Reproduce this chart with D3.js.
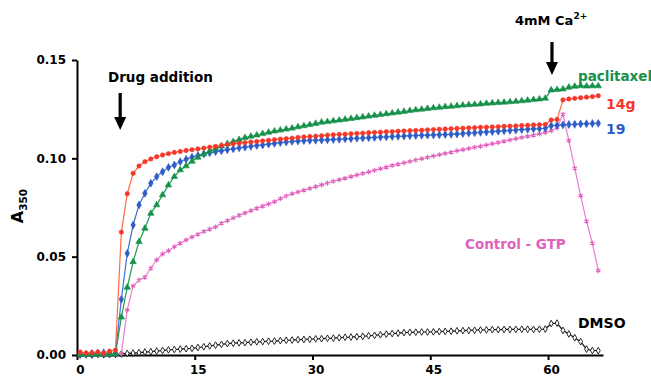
<!DOCTYPE html>
<html>
<head>
<meta charset="utf-8">
<script src="https://cdnjs.cloudflare.com/ajax/libs/d3/7.8.5/d3.min.js"></script>
<style>
  body { margin: 0; background: #fff; }
  svg { display: block; }
  .axis path, .axis line { stroke: #000; stroke-width: 2px; }
  .axis text { font-family: "DejaVu Sans", sans-serif; font-weight: bold; font-size: 12px; fill: #000; }
  .note { font-family: "DejaVu Sans", sans-serif; font-weight: bold; }
</style>
</head>
<body>
<div id="turbidity"></div>
<script>
// read times (min)
var times = [0.4,1.15,1.9,2.65,3.4,4.15,4.9,5.65,6.4,7.15,7.9,8.65,9.4,10.15,10.9,11.65,12.4,13.15,13.9,14.65,
  15.4,16.15,16.9,17.65,18.4,19.15,19.9,20.65,21.4,22.15,22.9,23.65,24.4,25.15,25.9,26.65,27.4,28.15,28.9,29.65,
  30.4,31.15,31.9,32.65,33.4,34.15,34.9,35.65,36.4,37.15,37.9,38.65,39.4,40.15,40.9,41.65,42.4,43.15,43.9,44.65,
  45.4,46.15,46.9,47.65,48.4,49.15,49.9,50.65,51.4,52.15,52.9,53.65,54.4,55.15,55.9,56.65,57.4,58.15,58.9,59.65,
  60.4,61.15,61.9,62.65,63.4,64.15,64.9,65.65,66.4];

// A350 for each compound
var dmso = [0.0000,0.0002,0.0000,0.0003,0.0001,0.0002,0.0003,0.0005,0.0008,0.0010,
  0.0012,0.0015,0.0017,0.0020,0.0023,0.0026,0.0028,0.0030,0.0032,0.0034,
  0.0038,0.0042,0.0046,0.0050,0.0054,0.0058,0.0060,0.0062,0.0063,0.0065,
  0.0067,0.0068,0.0070,0.0071,0.0073,0.0075,0.0076,0.0078,0.0079,0.0080,
  0.0082,0.0083,0.0085,0.0086,0.0088,0.0090,0.0091,0.0093,0.0095,0.0098,
  0.0100,0.0103,0.0106,0.0109,0.0111,0.0114,0.0115,0.0116,0.0117,0.0117,
  0.0118,0.0119,0.0120,0.0121,0.0123,0.0124,0.0125,0.0126,0.0127,0.0128,
  0.0129,0.0129,0.0130,0.0130,0.0130,0.0131,0.0131,0.0130,0.0131,0.0132,
  0.0160,0.0162,0.0125,0.0107,0.0088,0.0068,0.0030,0.0023,0.0022];

var controlGTP = [0.0002,0.0001,0.0003,0.0002,0.0004,0.0003,0.0005,0.0008,0.0229,0.0351,
  0.0381,0.0395,0.0441,0.0483,0.0514,0.0530,0.0550,0.0568,0.0585,0.0600,
  0.0614,0.0628,0.0640,0.0651,0.0670,0.0683,0.0697,0.0710,0.0722,0.0734,
  0.0746,0.0757,0.0768,0.0779,0.0795,0.0808,0.0820,0.0829,0.0838,0.0847,
  0.0856,0.0865,0.0874,0.0883,0.0891,0.0899,0.0907,0.0915,0.0923,0.0931,
  0.0939,0.0947,0.0955,0.0963,0.0970,0.0977,0.0984,0.0991,0.0998,0.1005,
  0.1012,0.1018,0.1025,0.1031,0.1038,0.1044,0.1050,0.1056,0.1062,0.1068,
  0.1074,0.1080,0.1087,0.1093,0.1100,0.1106,0.1112,0.1118,0.1124,0.1131,
  0.1140,0.1155,0.1224,0.1090,0.0950,0.0810,0.0680,0.0568,0.0429];

var cmpd19 = [0.0005,0.0003,0.0008,0.0010,0.0012,0.0008,0.0010,0.0283,0.0517,0.0661,
  0.0763,0.0822,0.0873,0.0907,0.0932,0.0954,0.0966,0.0983,0.0995,0.1006,
  0.1015,0.1022,0.1028,0.1034,0.1038,0.1044,0.1048,0.1053,0.1057,0.1061,
  0.1065,0.1068,0.1072,0.1076,0.1080,0.1083,0.1086,0.1088,0.1090,0.1091,
  0.1092,0.1093,0.1094,0.1096,0.1097,0.1099,0.1100,0.1102,0.1103,0.1105,
  0.1106,0.1108,0.1109,0.1111,0.1112,0.1113,0.1115,0.1116,0.1117,0.1118,
  0.1119,0.1120,0.1121,0.1122,0.1124,0.1126,0.1128,0.1130,0.1132,0.1134,
  0.1136,0.1138,0.1140,0.1142,0.1144,0.1146,0.1148,0.1150,0.1151,0.1153,
  0.1166,0.1168,0.1170,0.1172,0.1173,0.1175,0.1176,0.1177,0.1178];

var paclitaxel = [0.0003,0.0002,0.0004,0.0003,0.0005,0.0004,0.0006,0.0192,0.0344,0.0474,
  0.0576,0.0644,0.0720,0.0763,0.0814,0.0864,0.0907,0.0941,0.0961,0.0985,
  0.1005,0.1022,0.1037,0.1050,0.1062,0.1074,0.1085,0.1095,0.1105,0.1112,
  0.1118,0.1125,0.1132,0.1138,0.1143,0.1148,0.1153,0.1160,0.1165,0.1171,
  0.1177,0.1183,0.1186,0.1190,0.1194,0.1198,0.1202,0.1206,0.1210,0.1214,
  0.1218,0.1222,0.1226,0.1230,0.1234,0.1238,0.1242,0.1246,0.1249,0.1253,
  0.1256,0.1259,0.1262,0.1264,0.1267,0.1270,0.1272,0.1274,0.1276,0.1279,
  0.1281,0.1283,0.1285,0.1287,0.1289,0.1292,0.1295,0.1298,0.1301,0.1305,
  0.1347,0.1349,0.1352,0.1361,0.1366,0.1368,0.1367,0.1368,0.1368];

var cmpd14g = [0.0015,0.0010,0.0012,0.0015,0.0010,0.0020,0.0025,0.0625,0.0820,0.0924,
  0.0961,0.0983,0.0997,0.1008,0.1017,0.1024,0.1030,0.1035,0.1040,0.1044,
  0.1048,0.1052,0.1057,0.1061,0.1066,0.1070,0.1074,0.1077,0.1080,0.1083,
  0.1086,0.1089,0.1092,0.1095,0.1098,0.1100,0.1103,0.1106,0.1109,0.1111,
  0.1113,0.1115,0.1118,0.1120,0.1122,0.1123,0.1125,0.1127,0.1128,0.1130,
  0.1132,0.1133,0.1135,0.1136,0.1138,0.1139,0.1141,0.1142,0.1143,0.1145,
  0.1146,0.1148,0.1149,0.1151,0.1152,0.1153,0.1155,0.1156,0.1158,0.1159,
  0.1160,0.1161,0.1163,0.1164,0.1165,0.1167,0.1168,0.1170,0.1171,0.1173,
  0.1195,0.1198,0.1297,0.1302,0.1305,0.1308,0.1311,0.1314,0.1318];

var xTicks = [0, 15, 30, 45, 60];
var yTicks = [0, 0.05, 0.10, 0.15];

var width = 651, height = 379;

var svg = d3.select("#turbidity").append("svg")
  .attr("width", width)
  .attr("height", height);

var x = d3.scaleLinear().domain([0, 67]).range([77, 603]);
var y = d3.scaleLinear().domain([0, 0.15]).range([355, 60]);

// axes
svg.append("g")
  .attr("class", "axis")
  .attr("transform", "translate(0,355)")
  .call(d3.axisBottom(x).tickValues(xTicks).tickSize(5).tickSizeOuter(0).tickPadding(5))
  .selectAll("text").attr("dx", 3);

svg.append("g")
  .attr("class", "axis")
  .attr("transform", "translate(77,0)")
  .call(d3.axisLeft(y).tickValues(yTicks).tickSize(5).tickSizeOuter(0).tickPadding(6)
    .tickFormat(d3.format(".2f")));

// y title A350, rotated
var yTitle = svg.append("text")
  .attr("class", "note")
  .attr("transform", "translate(23,206)rotate(-90)")
  .attr("text-anchor", "middle")
  .style("font-size", "16px");
yTitle.append("tspan").text("A");
yTitle.append("tspan").attr("dy", 4).style("font-size", "10.5px").text("350");

// series
var series = [
  {name: "DMSO", values: dmso, color: "#111", line: "#111", symbol: d3.symbolDiamond, size: 13, open: true},
  {name: "Control - GTP", values: controlGTP, color: "#e062bd", line: "#e77fcb", symbol: d3.symbolAsterisk, size: 18, stroke: true},
  {name: "19", values: cmpd19, color: "#2d5cc4", line: "#3f6fd2", symbol: d3.symbolDiamond, size: 18},
  {name: "paclitaxel", values: paclitaxel, color: "#17904a", line: "#1f9a52", symbol: d3.symbolTriangle, size: 18},
  {name: "14g", values: cmpd14g, color: "#f5362a", line: "#ff6a45", symbol: d3.symbolCircle, size: 15}
];

var line = d3.line()
  .x(function (d) { return x(d[0]); })
  .y(function (d) { return y(d[1]); });

series.forEach(function (s) {
  var pts = times.map(function (t, i) { return [t, s.values[i]]; });
  var g = svg.append("g").attr("class", "series");

  g.append("path")
    .datum(pts)
    .attr("fill", "none")
    .attr("stroke", s.line)
    .attr("stroke-width", 1.2)
    .attr("d", line);

  g.selectAll("path.mark")
    .data(pts)
    .enter().append("path")
      .attr("class", "mark")
      .attr("transform", function (d) { return "translate(" + x(d[0]) + "," + y(d[1]) + ")"; })
      .attr("d", d3.symbol().type(s.symbol).size(s.size))
      .attr("fill", s.stroke ? "none" : (s.open ? "#fff" : s.color))
      .attr("stroke", s.color)
      .attr("stroke-width", s.open ? 0.9 : (s.stroke ? 1.1 : 0.6));
});

// arrows marking additions
function arrow(cx, top, tip) {
  svg.append("path")
    .attr("d", "M" + (cx - 1.6) + "," + top + "L" + (cx + 1.6) + "," + top +
      "L" + (cx + 1.6) + "," + (tip - 13) + "L" + (cx + 6) + "," + (tip - 13) +
      "L" + cx + "," + tip + "L" + (cx - 6) + "," + (tip - 13) +
      "L" + (cx - 1.6) + "," + (tip - 13) + "Z")
    .attr("fill", "#000");
}
arrow(x(5.5), 93, 130);
arrow(x(60.5), 42, 75);

svg.append("text").attr("class", "note")
  .attr("x", 108).attr("y", 82)
  .style("font-size", "13.5px")
  .text("Drug addition");

var ca = svg.append("text").attr("class", "note")
  .attr("x", 515).attr("y", 25)
  .style("font-size", "13px");
ca.append("tspan").text("4mM Ca");
ca.append("tspan").attr("dy", -6).style("font-size", "9px").text("2+");

// series labels
svg.append("text").attr("class", "note")
  .attr("x", 578).attr("y", 81).style("font-size", "13.5px").attr("fill", "#17904a").text("paclitaxel");
svg.append("text").attr("class", "note")
  .attr("x", 606).attr("y", 109).style("font-size", "14px").attr("fill", "#f5362a").text("14g");
svg.append("text").attr("class", "note")
  .attr("x", 606).attr("y", 134).style("font-size", "14px").attr("fill", "#2d5cc4").text("19");
svg.append("text").attr("class", "note")
  .attr("x", 465).attr("y", 249).style("font-size", "13.5px").attr("fill", "#e062bd").text("Control - GTP");
svg.append("text").attr("class", "note")
  .attr("x", 578).attr("y", 328).style("font-size", "14px").attr("fill", "#000").text("DMSO");
</script>
</body>
</html>
